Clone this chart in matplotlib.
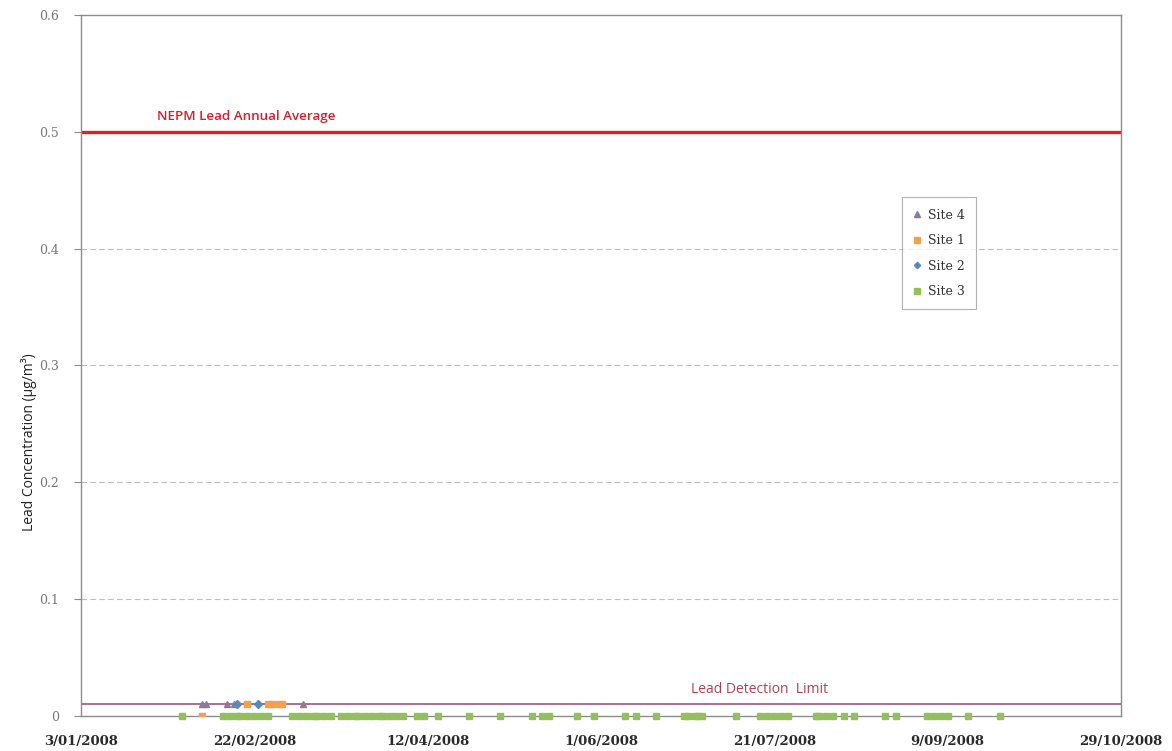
import matplotlib
matplotlib.use("Agg")
import matplotlib.pyplot as plt
import numpy as np
import pandas as pd

# ---- data ----
site3_dates = ["2008-02-01", "2008-02-13", "2008-02-15", "2008-02-17", "2008-02-18", "2008-02-20",
               "2008-02-22", "2008-02-24", "2008-02-26", "2008-03-04", "2008-03-06", "2008-03-08",
               "2008-03-10", "2008-03-11", "2008-03-13", "2008-03-15", "2008-03-18", "2008-03-20",
               "2008-03-22", "2008-03-23", "2008-03-25", "2008-03-27", "2008-03-29", "2008-03-30",
               "2008-04-01", "2008-04-03", "2008-04-05", "2008-04-09", "2008-04-11", "2008-04-15",
               "2008-04-24", "2008-05-03", "2008-05-12", "2008-05-15", "2008-05-17", "2008-05-25",
               "2008-05-30", "2008-06-08", "2008-06-11", "2008-06-17", "2008-06-25", "2008-06-26",
               "2008-06-28", "2008-06-29", "2008-06-30", "2008-07-10", "2008-07-17", "2008-07-19",
               "2008-07-21", "2008-07-23", "2008-07-25", "2008-08-02", "2008-08-03", "2008-08-05",
               "2008-08-07", "2008-08-10", "2008-08-13", "2008-08-22", "2008-08-25", "2008-09-03",
               "2008-09-05", "2008-09-07", "2008-09-09", "2008-09-15", "2008-09-24"]
site3_values = [0.0] * len(site3_dates)

site1_dates = ["2008-02-07", "2008-02-20", "2008-02-26", "2008-02-27", "2008-02-29", "2008-03-01"]
site1_values = [0.0, 0.01, 0.01, 0.01, 0.01, 0.01]

site4_dates = ["2008-02-07", "2008-02-08", "2008-02-14", "2008-02-16", "2008-03-07"]
site4_values = [0.01, 0.01, 0.01, 0.01, 0.01]

site2_dates = ["2008-02-17", "2008-02-23"]
site2_values = [0.01, 0.01]

nepm_standard = 0.5
detection_limit = 0.01

x_start = "2008-01-03"
x_end = "2008-10-29"
x_tick_dates = ["2008-01-03", "2008-02-22", "2008-04-12", "2008-06-01",
                "2008-07-21", "2008-09-09", "2008-10-29"]
x_tick_labels = ["3/01/2008", "22/02/2008", "12/04/2008", "1/06/2008",
                 "21/07/2008", "9/09/2008", "29/10/2008"]
y_ticks = [0, 0.1, 0.2, 0.3, 0.4, 0.5, 0.6]
y_tick_labels = ["0", "0.1", "0.2", "0.3", "0.4", "0.5", "0.6"]

# ---- figure ----
fig = plt.figure(figsize=(11.72, 7.51), dpi=100)
ax = fig.add_axes([81 / 1172, 1 - 716 / 751, 1040 / 1172, 701 / 751])

d = pd.to_datetime
ax.set_xlim(d(x_start), d(x_end))
ax.set_ylim(0, 0.6)

# gridlines
for yv in y_ticks[1:5]:
    ax.axhline(yv, color="#bdbdbd", lw=0.8, ls=(0, (5, 3)), zorder=0)

# reference lines
ax.axhline(nepm_standard, color="#dd1f26", lw=2.4, zorder=2)
ax.axhline(detection_limit, color="#a8708c", lw=1.4, zorder=2)

ax.text(d("2008-01-25"), 0.513, "NEPM Lead Annual Average", color="#d3202a",
        fontsize=9.6, fontweight="semibold", family="Open Sans", ha="left", va="center")
ax.text(d("2008-06-27"), 0.0225, "Lead Detection  Limit", color="#b2404f",
        fontsize=10, family="Open Sans", ha="left", va="center")

ms = 5
h4, = ax.plot(d(site4_dates), site4_values, ls="none", marker="^", ms=ms,
              color="#8a7b9a", label="Site 4", zorder=4)
h1, = ax.plot(d(site1_dates), site1_values, ls="none", marker="s", ms=ms,
              color="#f0a050", label="Site 1", zorder=4)
h2, = ax.plot(d(site2_dates), site2_values, ls="none", marker="D", ms=ms - 1,
              color="#5a88b8", label="Site 2", zorder=4)
h3, = ax.plot(d(site3_dates), site3_values, ls="none", marker="s", ms=ms,
              color="#93bf5c", label="Site 3", zorder=3, clip_on=False)

# axes styling
for s in ax.spines.values():
    s.set_color("#8c8c8c")
    s.set_linewidth(1.0)

ax.set_xticks(d(x_tick_dates))
ax.set_xticklabels(x_tick_labels, family="DejaVu Serif", fontsize=9.5, color="#2a2a2a",
                   fontweight="semibold")
ax.set_yticks(y_ticks)
ax.set_yticklabels(y_tick_labels, family="DejaVu Serif", fontsize=9, color="#777777")
ax.tick_params(axis="y", length=5, color="#8c8c8c", pad=11)
ax.tick_params(axis="x", length=0, pad=14)

fig.text(29 / 1172, 1 - 442 / 751, "Lead Concentration (µg/m³)", family="Open Sans",
         fontsize=10, color="#222222", rotation=90, ha="center", va="center")

leg = ax.legend(handles=[h4, h1, h2, h3], loc="upper left", bbox_to_anchor=(0.789, 0.74),
                frameon=True, fancybox=False, edgecolor="#a0a0a0",
                prop={"family": "DejaVu Serif", "size": 9}, labelspacing=1.0,
                handlelength=0.6, handletextpad=0.6, borderpad=0.9, borderaxespad=0,
                markerscale=0.8)
leg.get_frame().set_linewidth(0.8)
for t in leg.get_texts():
    t.set_color("#333333")

fig.savefig("out.png", dpi=100)
